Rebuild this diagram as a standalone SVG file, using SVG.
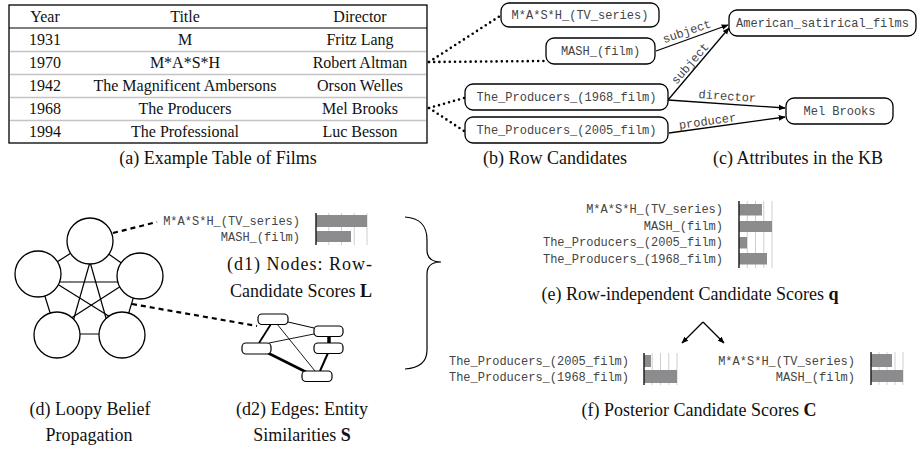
<svg xmlns="http://www.w3.org/2000/svg" width="920" height="449" viewBox="0 0 920 449">
<style>
.serif{font-family:"Liberation Serif","Times New Roman",serif;fill:#111}
.tbl{font-size:16px}
.cap{font-size:18px}
.mono{font-family:"Liberation Mono","Courier New",monospace;font-size:12px;fill:#444}
.box{fill:#fff;stroke:#000;stroke-width:1.3}
.dot{fill:none;stroke:#000;stroke-width:2.6;stroke-linecap:round;stroke-dasharray:0 5.2}
.dash{fill:none;stroke:#000;stroke-width:2.2;stroke-dasharray:5 4}
.arr{fill:none;stroke:#000;stroke-width:1.3}
.circ{fill:#fff;stroke:#000;stroke-width:1.3}
.edge{stroke:#000;stroke-width:1.2}
.bar{fill:#8c8c8e}
.grid{stroke:#cfcfcf;stroke-width:1}
.axis{stroke:#222;stroke-width:1.5}
.sbox{fill:#fff;stroke:#000;stroke-width:1.2}
</style>
<defs>
<marker id="ah" viewBox="0 0 10 10" refX="9" refY="5" markerWidth="7" markerHeight="7" orient="auto" markerUnits="userSpaceOnUse">
<path d="M0,1 L10,5 L0,9 z" fill="#000"/>
</marker>
</defs>
<rect width="920" height="449" fill="#fff"/>

<!-- (a) table -->
<g id="table">
<rect x="9" y="5" width="418" height="138" fill="none" stroke="#000" stroke-width="1.3"/>
<line x1="9" y1="28" x2="427" y2="28" stroke="#000" stroke-width="1.2"/>
<g stroke="#c4c4c4" stroke-width="1.6">
<line x1="10" y1="51.5" x2="426" y2="51.5"/>
<line x1="10" y1="74.5" x2="426" y2="74.5"/>
<line x1="10" y1="97.5" x2="426" y2="97.5"/>
<line x1="10" y1="120.5" x2="426" y2="120.5"/>
</g>
<g class="serif tbl" text-anchor="middle">
<text x="45" y="22">Year</text><text x="185" y="22">Title</text><text x="360" y="22">Director</text>
<text x="45" y="45">1931</text><text x="185" y="45">M</text><text x="360" y="45">Fritz Lang</text>
<text x="45" y="68">1970</text><text x="185" y="68">M*A*S*H</text><text x="360" y="68">Robert Altman</text>
<text x="45" y="91">1942</text><text x="185" y="91">The Magnificent Ambersons</text><text x="360" y="91">Orson Welles</text>
<text x="45" y="114">1968</text><text x="185" y="114">The Producers</text><text x="360" y="114">Mel Brooks</text>
<text x="45" y="137">1994</text><text x="185" y="137">The Professional</text><text x="360" y="137">Luc Besson</text>
</g>
</g>

<!-- connectors -->
<g id="connectors">
<path class="dot" d="M429,62 L500,16"/>
<path class="dot" d="M429,62 L545,61"/>
<path class="dot" d="M429,108 L464,98"/>
<path class="dot" d="M429,108 L464,131"/>
<path class="arr" d="M656,51 L728,25" marker-end="url(#ah)"/>
<path class="arr" d="M668,100 L729,28" marker-end="url(#ah)"/>
<path class="arr" d="M668,100 L785,108" marker-end="url(#ah)"/>
<path class="arr" d="M669,133 L785,117" marker-end="url(#ah)"/>
<g class="mono">
<text transform="translate(688,35) rotate(-19)" text-anchor="middle">subject</text>
<text transform="translate(693,66) rotate(-49)" text-anchor="middle">subject</text>
<text transform="translate(727,100) rotate(4)" text-anchor="middle">director</text>
<text transform="translate(708,125) rotate(-8)" text-anchor="middle">producer</text>
</g>
<path class="dash" d="M113,233 L157,222"/>
<path class="dash" d="M132,304 L257,326"/>
<path class="arr" d="M703,322 L682,343" marker-end="url(#ah)"/>
<path class="arr" d="M703,322 L724,343" marker-end="url(#ah)"/>
</g>

<!-- (b) candidates -->
<g id="cand-mash-tv"><rect class="box" x="501" y="3" width="158" height="24" rx="8"/><text class="mono" x="580" y="19" text-anchor="middle">M*A*S*H_(TV_series)</text></g>
<g id="cand-mash-film"><rect class="box" x="546" y="38" width="109" height="26" rx="8"/><text class="mono" x="600.5" y="55" text-anchor="middle">MASH_(film)</text></g>
<g id="cand-prod-1968"><rect class="box" x="465" y="84" width="203" height="26" rx="8"/><text class="mono" x="566.5" y="101" text-anchor="middle">The_Producers_(1968_film)</text></g>
<g id="cand-prod-2005"><rect class="box" x="465" y="117" width="203" height="26" rx="8"/><text class="mono" x="566.5" y="134" text-anchor="middle">The_Producers_(2005_film)</text></g>

<!-- (c) attributes -->
<g id="attr-american"><rect class="box" x="729" y="10" width="187" height="26" rx="8"/><text class="mono" x="822.5" y="27" text-anchor="middle">American_satirical_films</text></g>
<g id="attr-melbrooks"><rect class="box" x="786" y="98" width="107" height="26" rx="8"/><text class="mono" x="839.5" y="115" text-anchor="middle">Mel Brooks</text></g>

<g class="serif cap" text-anchor="middle">
<text x="218" y="164">(a) Example Table of Films</text>
<text x="555" y="164">(b) Row Candidates</text>
<text x="798" y="164">(c) Attributes in the KB</text>
</g>

<!-- (d) loopy belief propagation graph -->
<g id="lbp-graph">
<g class="edge">
<line x1="90" y1="241" x2="38" y2="274"/>
<line x1="90" y1="241" x2="140" y2="276"/>
<line x1="38" y1="274" x2="57" y2="335"/>
<line x1="140" y1="276" x2="122" y2="335"/>
<line x1="57" y1="334" x2="122" y2="334"/>
<line x1="45" y1="282" x2="133" y2="282"/>
<line x1="92" y1="255" x2="70" y2="332"/>
<line x1="88" y1="255" x2="110" y2="332"/>
<line x1="46" y1="277" x2="115" y2="320"/>
<line x1="132" y1="279" x2="65" y2="322"/>
</g>
<circle class="circ" cx="90" cy="241" r="23"/>
<circle class="circ" cx="38" cy="274" r="23"/>
<circle class="circ" cx="140" cy="276" r="23"/>
<circle class="circ" cx="57" cy="335" r="23"/>
<circle class="circ" cx="122" cy="335" r="23"/>
</g>

<!-- (d1) node scores -->
<g id="d1-chart">
<text class="mono" x="300" y="225" text-anchor="end">M*A*S*H_(TV_series)</text>
<text class="mono" x="300" y="241" text-anchor="end">MASH_(film)</text>
<g class="grid"><line x1="328.75" y1="213" x2="328.75" y2="245"/><line x1="341.5" y1="213" x2="341.5" y2="245"/><line x1="354.25" y1="213" x2="354.25" y2="245"/><line x1="367" y1="213" x2="367" y2="245"/></g>
<rect class="bar" x="316" y="215" width="51" height="12"/>
<rect class="bar" x="316" y="231" width="35" height="11"/>
<line class="axis" x1="316" y1="213" x2="316" y2="245"/>
</g>

<!-- (d2) similarity graph -->
<g id="d2-graph">
<line x1="271" y1="324" x2="259" y2="343" stroke="#000" stroke-width="1.8"/>
<line x1="288" y1="322" x2="314" y2="328" stroke="#000" stroke-width="1"/>
<line x1="277" y1="324" x2="315" y2="371" stroke="#000" stroke-width="0.9"/>
<line x1="269" y1="343" x2="314" y2="334" stroke="#000" stroke-width="0.9"/>
<line x1="329" y1="336" x2="329" y2="343" stroke="#000" stroke-width="3.5"/>
<line x1="268" y1="353" x2="306" y2="372" stroke="#000" stroke-width="2.6"/>
<line x1="328" y1="353" x2="320" y2="371" stroke="#000" stroke-width="2"/>
<rect class="sbox" x="258" y="314" width="30" height="10.5" rx="4"/>
<rect class="sbox" x="314" y="326" width="29" height="10.5" rx="4"/>
<rect class="sbox" x="242" y="343" width="29" height="11" rx="4"/>
<rect class="sbox" x="314" y="343" width="29" height="10.5" rx="4"/>
<rect class="sbox" x="302" y="371" width="30" height="10.5" rx="4"/>
</g>

<!-- brace -->
<path id="brace" d="M405,217 C420,218 427,225 427,240 L427,250 C427,258 432,262 441,262 C432,262 427,266 427,274 L427,350 C427,362 420,368 405,369" fill="none" stroke="#000" stroke-width="1.2"/>

<!-- (e) chart -->
<g id="e-chart">
<g class="mono" text-anchor="end">
<text x="723" y="213">M*A*S*H_(TV_series)</text>
<text x="723" y="230">MASH_(film)</text>
<text x="723" y="246">The_Producers_(2005_film)</text>
<text x="723" y="263">The_Producers_(1968_film)</text>
</g>
<g class="grid"><line x1="747.25" y1="201" x2="747.25" y2="268"/><line x1="755.5" y1="201" x2="755.5" y2="268"/><line x1="763.75" y1="201" x2="763.75" y2="268"/><line x1="772" y1="201" x2="772" y2="268"/></g>
<rect class="bar" x="739" y="204" width="23" height="11.5"/>
<rect class="bar" x="739" y="221" width="33" height="11"/>
<rect class="bar" x="739" y="237" width="8" height="11.5"/>
<rect class="bar" x="739" y="253" width="28" height="11.5"/>
<line class="axis" x1="739" y1="201" x2="739" y2="268"/>
</g>
<text class="serif cap" x="690" y="300" text-anchor="middle">(e) Row-independent Candidate Scores <tspan font-weight="bold">q</tspan></text>

<!-- (f) charts -->
<g id="f-chart-left">
<g class="mono" text-anchor="end">
<text x="629" y="365">The_Producers_(2005_film)</text>
<text x="629" y="381">The_Producers_(1968_film)</text>
</g>
<g class="grid"><line x1="652.25" y1="353" x2="652.25" y2="385"/><line x1="660.5" y1="353" x2="660.5" y2="385"/><line x1="668.75" y1="353" x2="668.75" y2="385"/><line x1="677" y1="353" x2="677" y2="385"/></g>
<rect class="bar" x="644" y="355" width="7" height="12"/>
<rect class="bar" x="644" y="370" width="33" height="13"/>
<line class="axis" x1="644" y1="353" x2="644" y2="385"/>
</g>
<g id="f-chart-right">
<g class="mono" text-anchor="end">
<text x="855" y="365">M*A*S*H_(TV_series)</text>
<text x="855" y="381">MASH_(film)</text>
</g>
<g class="grid"><line x1="879" y1="352" x2="879" y2="385"/><line x1="887" y1="352" x2="887" y2="385"/><line x1="895" y1="352" x2="895" y2="385"/><line x1="903" y1="352" x2="903" y2="385"/></g>
<rect class="bar" x="871" y="354" width="21" height="13"/>
<rect class="bar" x="871" y="370" width="32" height="12"/>
<line class="axis" x1="871" y1="352" x2="871" y2="385"/>
</g>

<g class="serif cap" text-anchor="middle">
<text x="227" y="270" text-anchor="start" textLength="145" lengthAdjust="spacing">(d1) Nodes: Row-</text>
<text x="301" y="297">Candidate Scores <tspan font-weight="bold">L</tspan></text>
<text x="90" y="415">(d) Loopy Belief</text>
<text x="89" y="441">Propagation</text>
<text x="302" y="415">(d2) Edges: Entity</text>
<text x="302" y="441">Similarities <tspan font-weight="bold">S</tspan></text>
<text x="699" y="416">(f) Posterior Candidate Scores <tspan font-weight="bold">C</tspan></text>
</g>
</svg>
